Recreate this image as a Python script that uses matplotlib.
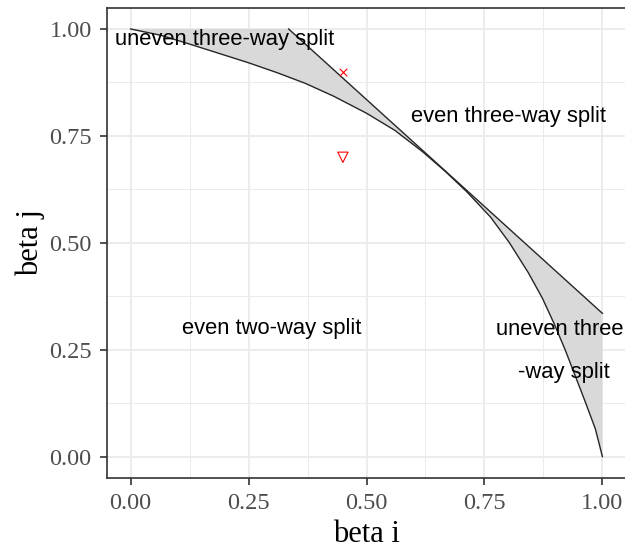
import numpy as np
import matplotlib
matplotlib.use("Agg")
import matplotlib.pyplot as plt

# boundary curve (symmetric about y = x)
curve_x = [0.000, 0.065, 0.130, 0.190, 0.250, 0.310, 0.370, 0.430, 0.500, 0.560,
           0.620, 0.667, 0.712, 0.763, 0.803, 0.843, 0.873, 0.898, 0.921, 0.942,
           0.963, 0.985, 1.000]
curve_y = [1.000, 0.985, 0.963, 0.942, 0.921, 0.898, 0.873, 0.843, 0.803, 0.763,
           0.712, 0.667, 0.620, 0.560, 0.500, 0.430, 0.370, 0.310, 0.250, 0.190,
           0.130, 0.065, 0.000]

# straight boundary
line_x = [0.335, 1.00]
line_y = [1.00, 0.335]

# red markers
cross_pt = (0.45, 0.90)
tri_pt = (0.45, 0.70)

# (text, x, y, horizontal alignment)
labels = [
    ("uneven three-way split", 0.20, 0.975, "center"),
    ("even three-way split", 0.80, 0.795, "center"),
    ("even two-way split", 0.30, 0.30, "center"),
    ("uneven three", 0.774, 0.297, "left"),
    ("-way split", 0.919, 0.196, "center"),
]

ticks = [0.00, 0.25, 0.50, 0.75, 1.00]
tick_labels = ["0.00", "0.25", "0.50", "0.75", "1.00"]

fig = plt.figure(figsize=(6.25, 5.48), dpi=100)
ax = fig.add_axes([107 / 625, 70 / 548, 519 / 625, 470.4 / 548])

# shaded area between the straight line and the curve
poly_x = [0.0, line_x[0], line_x[1], 1.0] + curve_x[::-1]
poly_y = [1.0, line_y[0], line_y[1], 0.0] + curve_y[::-1]
ax.fill(poly_x, poly_y, color="#d9d9d9", lw=0, zorder=2)

ax.plot(curve_x, curve_y, color="#262626", lw=1.0, zorder=3)
ax.plot(line_x, line_y, color="#262626", lw=1.0, zorder=3)

ax.scatter([cross_pt[0]], [cross_pt[1]], marker="x", s=30, color="red",
           linewidths=0.8, zorder=4)
ax.scatter([tri_pt[0]], [tri_pt[1]], marker="v", s=55, facecolors="none",
           edgecolors="red", linewidths=0.8, zorder=4)

for txt, x, y, ha in labels:
    ax.text(x, y, txt, ha=ha, va="center", fontsize=15.8,
            family="Liberation Sans", color="black", zorder=5)

ax.set_xlim(-0.05, 1.05)
ax.set_ylim(-0.05, 1.05)
ax.set_xticks(ticks)
ax.set_xticklabels(tick_labels)
ax.set_yticks(ticks)
ax.set_yticklabels(tick_labels)
ax.set_xticks(np.arange(0.125, 1.0, 0.25), minor=True)
ax.set_yticks(np.arange(0.125, 1.0, 0.25), minor=True)
ax.grid(which="major", color="#ebebeb", lw=1.3, zorder=0)
ax.grid(which="minor", color="#ebebeb", lw=0.7, zorder=0)
ax.set_axisbelow(True)

ax.tick_params(which="major", length=5, width=1.2, color="#333333",
               labelcolor="#4d4d4d", labelsize=17.5, pad=6)
ax.tick_params(which="minor", length=0)
for lab in ax.get_xticklabels() + ax.get_yticklabels():
    lab.set_family("Liberation Serif")
for sp in ax.spines.values():
    sp.set_color("#333333")
    sp.set_linewidth(1.2)

ax.set_xlabel("beta i", family="Liberation Serif", fontsize=22, labelpad=4)
ax.set_ylabel("beta j", family="Liberation Serif", fontsize=22, labelpad=3)

fig.savefig("out.png", dpi=100)
